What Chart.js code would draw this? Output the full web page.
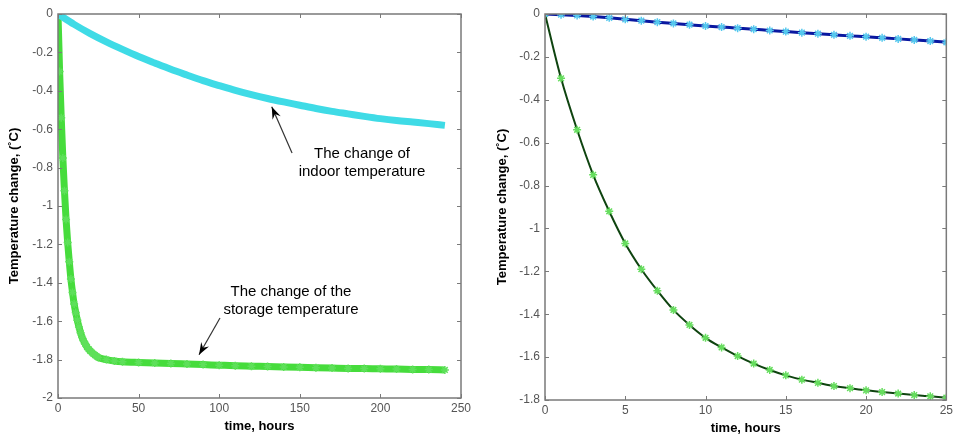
<!DOCTYPE html>
<html>
<head>
<meta charset="utf-8">
<script src="https://cdn.jsdelivr.net/npm/chart.js@4.4.1/dist/chart.umd.min.js"></script>
<style>
  body { margin: 0; background: #fff; }
  .panel { position: absolute; top: 0; width: 478px; height: 437px; }
</style>
</head>
<body>
<div class="panel" style="left:0"><canvas id="leftChart" width="478" height="437"></canvas></div>
<div class="panel" style="left:478px"><canvas id="rightChart" width="478" height="437"></canvas></div>
<script>
// first 25 hours, hourly
const shortHours = [0, 1, 2, 3, 4, 5, 6, 7, 8, 9, 10, 11, 12, 13, 14, 15, 16, 17, 18, 19, 20, 21, 22, 23, 24, 25];
const storageShort = [0, -0.30, -0.54, -0.75, -0.92, -1.07, -1.19, -1.29, -1.38, -1.45, -1.51, -1.555, -1.595, -1.63, -1.66, -1.685, -1.705, -1.72, -1.735, -1.745, -1.755, -1.763, -1.77, -1.777, -1.783, -1.789];
const indoorShort = [0, -0.003, -0.007, -0.012, -0.018, -0.025, -0.031, -0.038, -0.044, -0.050, -0.056, -0.061, -0.066, -0.071, -0.077, -0.082, -0.087, -0.092, -0.097, -0.102, -0.106, -0.111, -0.116, -0.121, -0.126, -0.132];

// rest of the storage curve (left plot)
const tailHours = [30, 35, 40, 50, 60, 70, 80, 90, 100, 110, 120, 130, 140, 150, 160, 170, 180, 190, 200, 210, 220, 230, 240];
const storageTail = [-1.80, -1.807, -1.811, -1.815, -1.818, -1.82, -1.823, -1.826, -1.829, -1.832, -1.834, -1.836, -1.838, -1.84, -1.842, -1.844, -1.846, -1.847, -1.848, -1.849, -1.851, -1.852, -1.854];

// indoor curve every 10 hours (left plot)
const indoorHours = [0, 10, 20, 30, 40, 50, 60, 70, 80, 90, 100, 110, 120, 130, 140, 150, 160, 170, 180, 190, 200, 210, 220, 230, 240];
const indoorLong = [0, -0.054, -0.102, -0.145, -0.184, -0.221, -0.255, -0.288, -0.318, -0.347, -0.373, -0.398, -0.42, -0.44, -0.458, -0.475, -0.492, -0.507, -0.52, -0.533, -0.545, -0.555, -0.563, -0.571, -0.58];

// tick labels
const leftXTicks = [0, 50, 100, 150, 200, 250];
const leftYTicks = [0, -0.2, -0.4, -0.6, -0.8, -1, -1.2, -1.4, -1.6, -1.8, -2];
const rightXTicks = [0, 5, 10, 15, 20, 25];
const rightYTicks = [0, -0.2, -0.4, -0.6, -0.8, -1, -1.2, -1.4, -1.6, -1.8];

const FONT = "'Liberation Sans', Arial, sans-serif";
const pts = (xs, ys) => xs.map((x, i) => ({ x: x, y: ys[i] }));

const storageLeft = pts(shortHours.concat(tailHours), storageShort.concat(storageTail));

// MATLAB style box with inward ticks
const matlabBox = {
  id: 'matlabBox',
  afterDatasetsDraw(chart) {
    const { ctx, chartArea: a, scales: { x, y } } = chart;
    ctx.save();
    ctx.strokeStyle = '#7a7a7a';
    ctx.lineWidth = 1;
    ctx.beginPath();
    x.ticks.forEach(t => {
      const px = Math.round(x.getPixelForValue(t.value)) + 0.5;
      ctx.moveTo(px, a.bottom); ctx.lineTo(px, a.bottom - 4);
      ctx.moveTo(px, a.top); ctx.lineTo(px, a.top + 4);
    });
    y.ticks.forEach(t => {
      const py = Math.round(y.getPixelForValue(t.value)) + 0.5;
      ctx.moveTo(a.left, py); ctx.lineTo(a.left + 4, py);
      ctx.moveTo(a.right, py); ctx.lineTo(a.right - 4, py);
    });
    ctx.stroke();
    ctx.lineWidth = 1.5;
    ctx.strokeRect(a.left, a.top, a.right - a.left, a.bottom - a.top);
    ctx.restore();
  }
};

// text labels with arrows, given in data coordinates
const notes = {
  id: 'notes',
  afterDraw(chart, args, opts) {
    if (!opts.items) return;
    const { ctx, scales: { x, y } } = chart;
    ctx.save();
    opts.items.forEach(n => {
      ctx.font = '15px ' + FONT;
      ctx.fillStyle = '#000';
      ctx.textAlign = 'center';
      ctx.textBaseline = 'middle';
      n.lines.forEach((s, i) => ctx.fillText(s, x.getPixelForValue(n.tx), y.getPixelForValue(n.ty) + i * 18));
      const x1 = x.getPixelForValue(n.from[0]), y1 = y.getPixelForValue(n.from[1]);
      const x2 = x.getPixelForValue(n.to[0]), y2 = y.getPixelForValue(n.to[1]);
      const ang = Math.atan2(y2 - y1, x2 - x1);
      ctx.strokeStyle = '#333';
      ctx.lineWidth = 1.2;
      ctx.beginPath(); ctx.moveTo(x1, y1); ctx.lineTo(x2, y2); ctx.stroke();
      ctx.fillStyle = '#000';
      ctx.beginPath();
      ctx.moveTo(x2, y2);
      ctx.lineTo(x2 - 13 * Math.cos(ang - 0.35), y2 - 13 * Math.sin(ang - 0.35));
      ctx.lineTo(x2 - 8 * Math.cos(ang), y2 - 8 * Math.sin(ang));
      ctx.lineTo(x2 - 13 * Math.cos(ang + 0.35), y2 - 13 * Math.sin(ang + 0.35));
      ctx.closePath();
      ctx.fill();
    });
    ctx.restore();
  }
};

function axes(xTicks, yTicks, yWidth, xHeight, yTitlePad, xTitlePad) {
  const tickFont = { family: FONT, size: 12 };
  const titleFont = { family: FONT, size: 13, weight: 'bold' };
  return {
    x: {
      type: 'linear',
      min: xTicks[0], max: xTicks[xTicks.length - 1],
      afterBuildTicks: s => { s.ticks = xTicks.map(v => ({ value: v })); },
      afterFit: s => { s.height = xHeight; },
      grid: { display: false, drawTicks: false, tickLength: 0 },
      border: { display: false },
      ticks: { color: '#555', font: tickFont, padding: 3, maxRotation: 0, callback: v => String(v) },
      title: { display: true, text: 'time, hours', color: '#000', font: titleFont, padding: { top: 0, bottom: xTitlePad } }
    },
    y: {
      type: 'linear',
      min: yTicks[yTicks.length - 1], max: yTicks[0],
      afterBuildTicks: s => { s.ticks = yTicks.map(v => ({ value: v })); },
      afterFit: s => { s.width = yWidth; },
      grid: { display: false, drawTicks: false, tickLength: 0 },
      border: { display: false },
      ticks: { color: '#555', font: tickFont, padding: 5, callback: v => String(+v.toFixed(1)) },
      title: { display: true, text: 'Temperature change, (\u02DAC)', color: '#000', font: titleFont, padding: { top: yTitlePad, bottom: 0 } }
    }
  };
}

new Chart(document.getElementById('leftChart').getContext('2d'), {
  type: 'line',
  data: {
    datasets: [
      { data: pts(indoorHours, indoorLong), borderColor: '#3fdbe6', borderWidth: 7, pointRadius: 0, cubicInterpolationMode: 'monotone' },
      { data: pts(indoorHours, indoorLong), borderColor: 'rgba(30,70,160,0.45)', borderWidth: 1, borderDash: [4, 4], pointRadius: 0, cubicInterpolationMode: 'monotone' },
      { data: storageLeft, borderColor: '#46dc3c', borderWidth: 7, pointStyle: 'star', pointRadius: 4, pointBorderWidth: 1.5, pointBorderColor: '#5ee05a', cubicInterpolationMode: 'monotone' },
      { data: storageLeft, borderColor: '#0d3d0d', borderWidth: 1.5, pointRadius: 0, cubicInterpolationMode: 'monotone' }
    ]
  },
  options: {
    responsive: false,
    animation: false,
    layout: { padding: { left: 0, top: 14, right: 17, bottom: 0 } },
    scales: axes(leftXTicks, leftYTicks, 58, 39, 7, 3),
    plugins: {
      legend: { display: false },
      tooltip: { enabled: false },
      notes: {
        items: [
          { lines: ['The change of', 'indoor temperature'], tx: 188.6, ty: -0.729, from: [145.2, -0.724], to: [132.6, -0.483] },
          { lines: ['The change of the', 'storage temperature'], tx: 144.5, ty: -1.448, from: [100.5, -1.583], to: [87.5, -1.775] }
        ]
      }
    }
  },
  plugins: [matlabBox, notes]
});

new Chart(document.getElementById('rightChart').getContext('2d'), {
  type: 'line',
  data: {
    datasets: [
      { data: pts(shortHours, indoorShort), borderColor: '#0a18a0', borderWidth: 3, pointStyle: 'star', pointRadius: 4, pointBorderWidth: 1.5, pointBorderColor: '#55c8ee', cubicInterpolationMode: 'monotone' },
      { data: pts(shortHours, storageShort), borderColor: '#0f4410', borderWidth: 2, pointStyle: 'star', pointRadius: 4, pointBorderWidth: 1.5, pointBorderColor: '#66dd5e', cubicInterpolationMode: 'monotone' }
    ]
  },
  options: {
    responsive: false,
    animation: false,
    layout: { padding: { left: 0, top: 14, right: 7, bottom: 0 } },
    scales: axes(rightXTicks, rightYTicks, 67, 37, 17, 1),
    plugins: { legend: { display: false }, tooltip: { enabled: false } }
  },
  plugins: [matlabBox]
});
</script>
</body>
</html>
